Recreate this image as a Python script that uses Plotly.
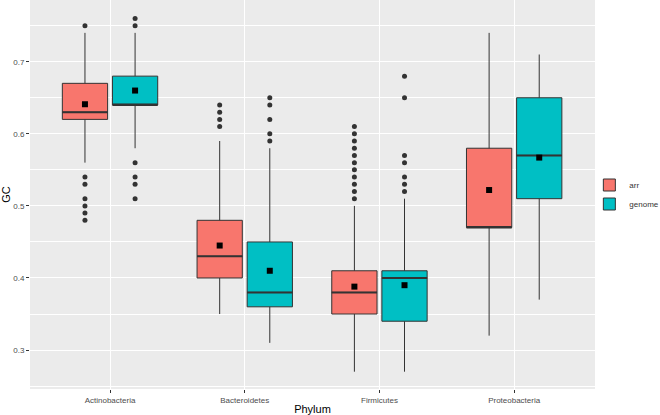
import plotly.graph_objects as go

phyla = ["Actinobacteria", "Bacteroidetes", "Firmicutes", "Proteobacteria"]
groups = ["arr", "genome"]
colors = {"arr": "#F8766D", "genome": "#00BFC4"}

# box statistics per group, in phylum order
q1 = {"arr": [0.62, 0.40, 0.35, 0.47], "genome": [0.64, 0.36, 0.34, 0.51]}
median = {"arr": [0.63, 0.43, 0.38, 0.47], "genome": [0.64, 0.38, 0.40, 0.57]}
q3 = {"arr": [0.67, 0.48, 0.41, 0.58], "genome": [0.68, 0.45, 0.41, 0.65]}
lower = {"arr": [0.56, 0.35, 0.27, 0.32], "genome": [0.58, 0.31, 0.27, 0.37]}
upper = {"arr": [0.74, 0.59, 0.50, 0.74], "genome": [0.74, 0.58, 0.51, 0.71]}
mean = {"arr": [0.641, 0.445, 0.388, 0.522], "genome": [0.660, 0.410, 0.390, 0.567]}
outliers = {
    "arr": [
        [0.75, 0.54, 0.53, 0.51, 0.50, 0.49, 0.48],
        [0.64, 0.63, 0.62, 0.61],
        [0.61, 0.60, 0.59, 0.58, 0.57, 0.56, 0.55, 0.54, 0.53, 0.52, 0.51],
        [],
    ],
    "genome": [
        [0.76, 0.75, 0.56, 0.54, 0.53, 0.51],
        [0.65, 0.64, 0.62, 0.60, 0.59],
        [0.68, 0.65, 0.57, 0.56, 0.54, 0.53, 0.52],
        [],
    ],
}

dodge = {"arr": -0.186, "genome": 0.186}
box_w = 0.336

fig = go.Figure()
for g in groups:
    xs = [i + dodge[g] for i in range(len(phyla))]
    fig.add_trace(go.Box(
        x=xs, q1=q1[g], median=median[g], q3=q3[g],
        lowerfence=lower[g], upperfence=upper[g],
        width=box_w, whiskerwidth=0, name=g,
        fillcolor=colors[g], line=dict(color="#333333", width=1),
        boxpoints=False, showlegend=True,
    ))
for g in groups:
    xs = [i + dodge[g] for i in range(len(phyla))]
    # thicker median line (ggplot style)
    mx, my = [], []
    for x, m in zip(xs, median[g]):
        mx += [x - box_w / 2, x + box_w / 2, None]
        my += [m, m, None]
    fig.add_trace(go.Scatter(x=mx, y=my, mode="lines",
                             line=dict(color="#333333", width=2),
                             showlegend=False, hoverinfo="skip"))
    # outliers
    ox, oy = [], []
    for x, vals in zip(xs, outliers[g]):
        ox += [x] * len(vals)
        oy += vals
    fig.add_trace(go.Scatter(x=ox, y=oy, mode="markers",
                             marker=dict(symbol="circle", size=5, color="#333333"),
                             showlegend=False))
    # means
    fig.add_trace(go.Scatter(x=xs, y=mean[g], mode="markers",
                             marker=dict(symbol="square", size=6, color="black"),
                             showlegend=False))

fig.update_layout(
    width=660, height=415,
    margin=dict(l=30, r=65, t=0, b=26, autoexpand=False),
    paper_bgcolor="white", plot_bgcolor="#EBEBEB",
    boxmode="overlay",
    font=dict(family="Liberation Sans, Arial, sans-serif", color="#4D4D4D"),
    legend=dict(x=0.99, y=0.5, xanchor="left", yanchor="middle",
                font=dict(size=8, color="#333333"), itemwidth=30,
                bgcolor="rgba(0,0,0,0)", tracegroupgap=0),
    xaxis=dict(
        range=[-0.594, 3.6], tickmode="array", automargin=False,
        tickvals=list(range(len(phyla))), ticktext=phyla,
        showgrid=True, gridcolor="white", gridwidth=1, zeroline=False,
        ticks="outside", ticklen=3, tickcolor="#333333",
        tickfont=dict(size=8, color="#4D4D4D"),
        title=dict(text="Phylum", font=dict(size=11, color="black"), standoff=2),
    ),
    yaxis=dict(
        range=[0.246, 0.7856], tickmode="array", automargin=False,
        tickvals=[0.3, 0.4, 0.5, 0.6, 0.7],
        ticktext=["0.3", "0.4", "0.5", "0.6", "0.7"],
        showgrid=True, gridcolor="white", gridwidth=1, zeroline=False,
        ticks="outside", ticklen=3, tickcolor="#333333",
        tickfont=dict(size=8, color="#4D4D4D"),
        minor=dict(tickvals=[0.25, 0.35, 0.45, 0.55, 0.65, 0.75],
                   showgrid=True, gridcolor="white", gridwidth=0.5, ticks=""),
        title=dict(text="GC", font=dict(size=11, color="black"), standoff=2),
    ),
)

fig.write_html("out.html",
               config={"displayModeBar": False},
               post_script="document.body.style.margin='0';document.body.style.overflow='hidden';")
